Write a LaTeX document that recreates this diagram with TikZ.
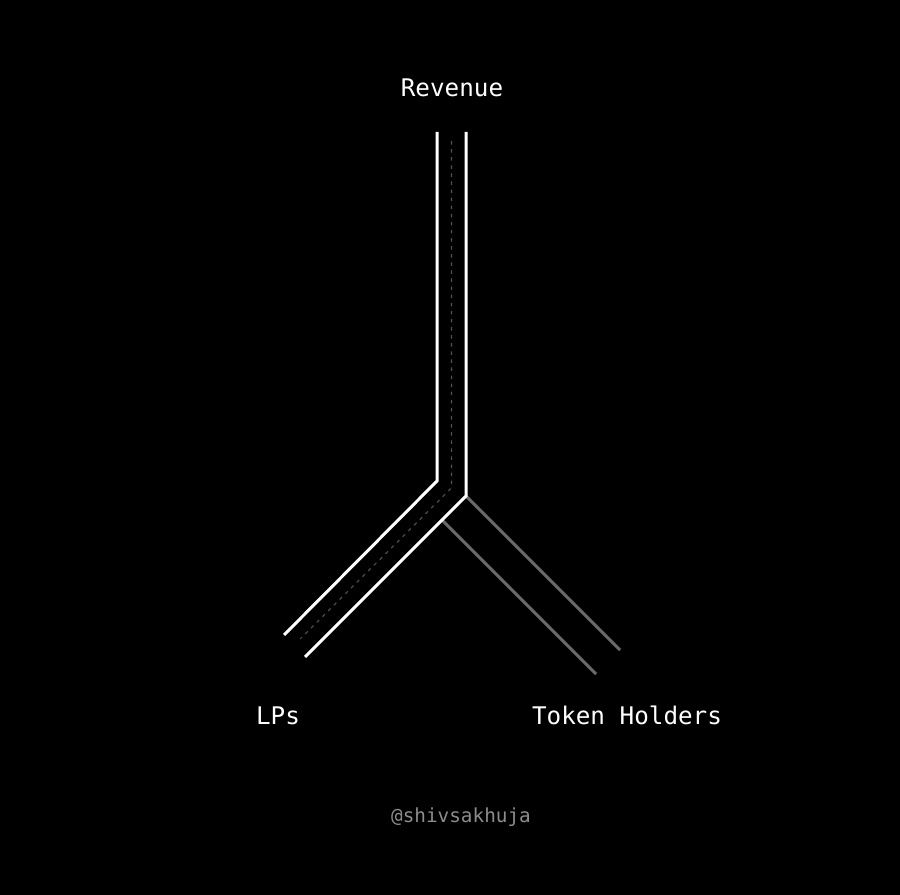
\documentclass[tikz,border=0pt]{standalone}
\usepackage{fontspec}
\setmonofont{DejaVu Sans Mono}
\usetikzlibrary{positioning}
\definecolor{branchgray}{HTML}{6A6A6A}
\definecolor{flowgray}{HTML}{555555}
\definecolor{handlegray}{HTML}{8C8C8C}
\begin{document}
\begin{tikzpicture}[
  x=0.01cm, y=-0.01cm,
  tag/.style={text=white, font=\ttfamily\fontsize{6.9}{8}\selectfont,
              anchor=base, inner sep=0pt},
  wall/.style={white, line width=0.85pt},
  branch/.style={branchgray, line width=0.85pt},
  flow/.style={flowgray, line width=0.3pt, dash pattern=on 1pt off 1.3pt}
]
\fill[black] (0,0) rectangle (900,895);
\useasboundingbox (0,0) rectangle (900,895);
% labels
\node[tag] (revenue) at (452,97) {Revenue};
\node[tag] (lps) at (278,725) {LPs};
\node[tag] (holders) at (627,725) {Token Holders};
\node[tag, text=handlegray, font=\ttfamily\fontsize{5.5}{7}\selectfont]
  (handle) at (461,823) {@shivsakhuja};
% pipe corners
\coordinate (ltop) at (437,132);
\coordinate (lbend) at (437,481);
\coordinate (lend) at (284,635);
\coordinate (rtop) at (466,132);
\coordinate (rbend) at (466,496);
\coordinate (rend) at (305,657);
\coordinate (ctop) at (451.5,141);
\coordinate (cbend) at (451.5,488);
\coordinate (cend) at (300,639);
\coordinate (gsplit) at (442,520);
\coordinate (gend1) at (620,650);
\coordinate (gend2) at (596,674);
% token holder branch
\draw[branch] (rbend) -- (gend1);
\draw[branch] (gsplit) -- (gend2);
% LP pipe
\draw[flow] (ctop) -- (cbend) -- (cend);
\draw[wall] (ltop) -- (lbend) -- (lend);
\draw[wall] (rtop) -- (rbend) -- (rend);
\end{tikzpicture}
\end{document}
